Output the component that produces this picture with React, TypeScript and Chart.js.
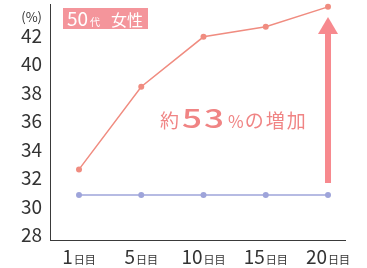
import React, { useEffect, useRef } from "react";
import { Chart, registerables } from "chart.js";

Chart.register(...registerables);

const days = ["1", "5", "10", "15", "20"];
const daySuffix = "日目";
const women50 = [32.6, 38.4, 41.9, 42.6, 44.0];
const baseline = [30.8, 30.8, 30.8, 30.8, 30.8];
const yTicks = [28, 30, 32, 34, 36, 38, 40, 42];
const badgeNum = "50";
const badgeUnit = "代";
const badgeText = "女性";
const noteParts = ["約", "53", "%", "の増加"];

const FONT = '"Noto Sans CJK JP", "Noto Sans", sans-serif';
const PINK = "#F08C80";
const BLUE = "#9EA4DA";
const AXIS = "#3a3a3a";

const overlay = {
  id: "overlay",
  afterDraw(chart: any) {
    const ctx = chart.ctx as CanvasRenderingContext2D;
    const xs = chart.scales.x;
    ctx.save();
    // x labels
    ctx.fillStyle = "#333";
    ctx.textBaseline = "alphabetic";
    days.forEach((d, i) => {
      const px = xs.getPixelForValue(i);
      ctx.font = `19px ${FONT}`;
      const w1 = ctx.measureText(d).width;
      ctx.font = `11px ${FONT}`;
      const w2 = ctx.measureText(daySuffix).width;
      const start = px - (w1 + w2 + 1) / 2;
      ctx.font = `19px ${FONT}`;
      ctx.fillText(d, start, 264);
      ctx.font = `11px ${FONT}`;
      ctx.fillText(daySuffix, start + w1 + 1, 264);
    });
    // (%)
    ctx.font = `13px ${FONT}`;
    ctx.textAlign = "right";
    ctx.fillText("(%)", 42, 22);
    ctx.textAlign = "left";
    // badge
    ctx.fillStyle = "#F4959B";
    ctx.fillRect(63, 8, 85, 21);
    ctx.fillStyle = "#fff";
    ctx.font = `19px ${FONT}`;
    ctx.fillText(badgeNum, 67, 26);
    const bw = ctx.measureText(badgeNum).width;
    ctx.font = `10px ${FONT}`;
    ctx.fillText(badgeUnit, 67 + bw + 2, 26);
    ctx.font = `16px ${FONT}`;
    ctx.fillText(badgeText, 111, 26);
    // arrow at last point
    const ax = xs.getPixelForValue(days.length - 1);
    const tipY = 17;
    const headY = 34;
    const botY = 183;
    ctx.fillStyle = "#F7898E";
    ctx.fillRect(ax - 3, headY - 1, 6, botY - headY + 1);
    ctx.beginPath();
    ctx.moveTo(ax, tipY);
    ctx.lineTo(ax + 10, headY);
    ctx.lineTo(ax - 10, headY);
    ctx.closePath();
    ctx.fill();
    // note
    ctx.fillStyle = "#F08484";
    let x = 160;
    const base = 128;
    ctx.font = `19px ${FONT}`;
    ctx.fillText(noteParts[0], x, base);
    x += 22;
    ctx.font = `500 26px ${FONT}`;
    for (const ch of noteParts[1]) {
      ctx.save();
      ctx.translate(x, base);
      ctx.scale(1.35, 1);
      ctx.fillText(ch, 0, 0);
      ctx.restore();
      x += 22;
    }
    x += 2;
    ctx.font = `17px ${FONT}`;
    ctx.fillText(noteParts[2], x, base);
    x += ctx.measureText(noteParts[2]).width + 1;
    ctx.font = `19px ${FONT}`;
    for (const ch of noteParts[3]) {
      ctx.fillText(ch, x, base);
      x += 21;
    }
    ctx.restore();
  },
};

export default function App() {
  const ref = useRef<HTMLCanvasElement>(null);
  useEffect(() => {
    if (!ref.current) return;
    const chart = new Chart(ref.current, {
      type: "line",
      data: {
        datasets: [
          {
            data: women50.map((v, i) => ({ x: i, y: v })),
            borderColor: PINK,
            backgroundColor: PINK,
            borderWidth: 1.5,
            pointRadius: 3,
            pointBorderWidth: 0,
            clip: false as any,
          },
          {
            data: baseline.map((v, i) => ({ x: i, y: v })),
            borderColor: BLUE,
            backgroundColor: BLUE,
            borderWidth: 1.5,
            pointRadius: 3,
            pointBorderWidth: 0,
            clip: false as any,
          },
        ],
      },
      options: {
        animation: false,
        responsive: true,
        maintainAspectRatio: false,
        layout: { padding: { left: 0, right: 22, top: 4, bottom: 0 } },
        plugins: { legend: { display: false }, tooltip: { enabled: false } },
        scales: {
          x: {
            type: "linear",
            min: -0.466,
            max: 4.273,
            grid: { display: false, drawTicks: false },
            border: { display: true, color: AXIS, width: 1 },
            ticks: { display: false },
            afterFit: (s: any) => {
              s.height = 28;
              s.paddingLeft = 0;
              s.paddingRight = 0;
            },
          },
          y: {
            min: 27.65,
            max: 44.2,
            grid: { display: false, drawTicks: false },
            border: { display: true, color: AXIS, width: 1 },
            afterBuildTicks: (s: any) => {
              s.ticks = yTicks.map((v) => ({ value: v }));
            },
            ticks: {
              padding: 8,
              color: "#333",
              font: { size: 19, family: FONT },
            },
            afterFit: (s: any) => {
              s.width = 50;
              s.paddingTop = 0;
              s.paddingBottom = 0;
            },
          },
        },
      },
      plugins: [overlay],
    });
    return () => chart.destroy();
  }, []);
  return (
    <div style={{ position: "fixed", left: 0, top: 0, width: 367, height: 268, background: "#fff" }}>
      <canvas ref={ref} />
    </div>
  );
}
